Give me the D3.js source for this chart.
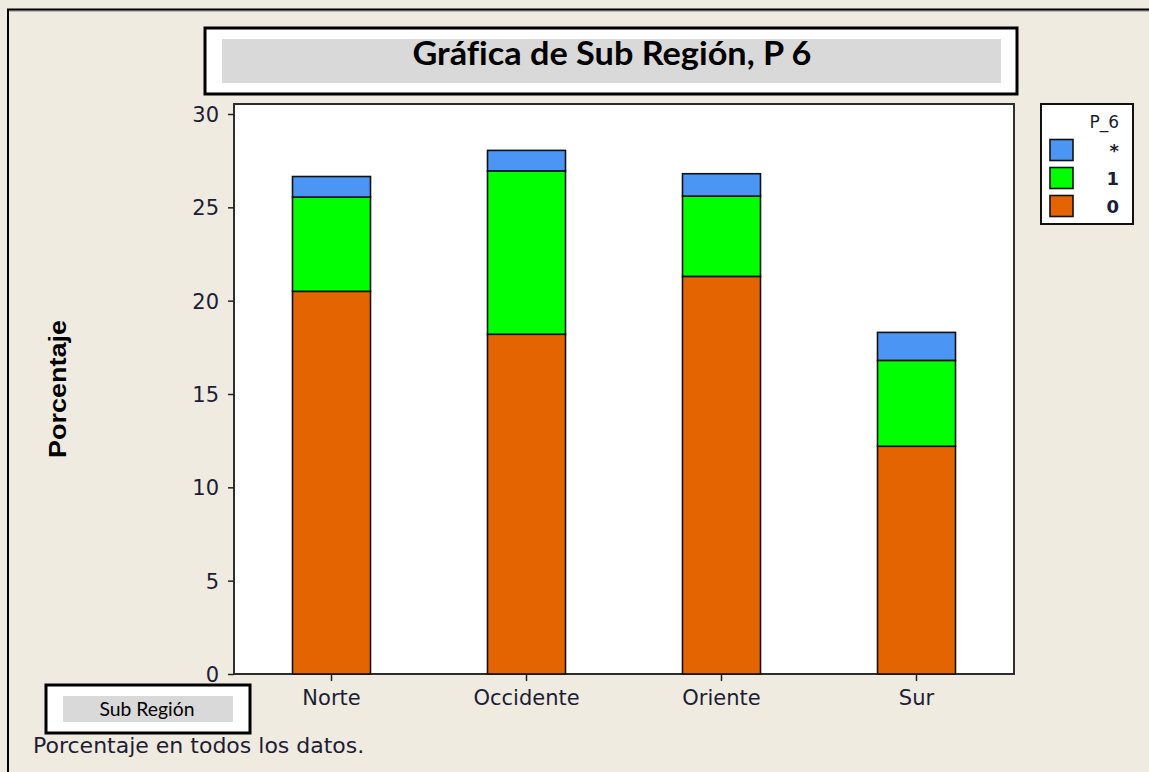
<!DOCTYPE html>
<html>
<head>
<meta charset="utf-8">
<script src="https://cdn.jsdelivr.net/npm/d3@7"></script>
<style>
  html, body { margin: 0; padding: 0; background: #efebe1; }
  svg { display: block; }
  text { font-variant-ligatures: none; font-feature-settings: "liga" 0, "clig" 0; }
</style>
</head>
<body>
<div id="dataviz"></div>
<script>
// data (percent of all data)
var regions = ["Norte", "Occidente", "Oriente", "Sur"];
var p6Keys = ["0", "1", "*"];
var p6Zero = [20.5, 18.2, 21.3, 12.2];
var p6One = [5.05, 8.75, 4.3, 4.6];
var p6Star = [1.1, 1.1, 1.2, 1.5];
var yTicks = [0, 5, 10, 15, 20, 25, 30];

var colors = { "0": "#e36400", "1": "#00ff00", "*": "#4b95f4" };
var legendOrder = ["*", "1", "0"];

var W = 1149, H = 772;
var plot = { left: 234, right: 1014, top: 104, bottom: 674 };
var textColor = "#1d1d35";

var svg = d3.select("#dataviz").append("svg")
    .attr("width", W)
    .attr("height", H);

// outer frame (only top and left edges visible)
svg.append("line").attr("x1", 7).attr("y1", 11).attr("x2", W).attr("y2", 11)
    .attr("stroke", "#888").attr("stroke-width", 1);
svg.append("line").attr("x1", 7).attr("y1", 9.5).attr("x2", W).attr("y2", 9.5)
    .attr("stroke", "#000").attr("stroke-width", 2);
svg.append("line").attr("x1", 8).attr("y1", 9).attr("x2", 8).attr("y2", H)
    .attr("stroke", "#000").attr("stroke-width", 2);

// table built from the arrays
var rows = regions.map(function(r, i) {
    return { region: r, "0": p6Zero[i], "1": p6One[i], "*": p6Star[i] };
});
var series = d3.stack().keys(p6Keys)(rows);

var x = d3.scaleBand().domain(regions)
    .range([plot.left, plot.right])
    .paddingInner(0.6).paddingOuter(0.3);
var y = d3.scaleLinear().domain([0, 30]).range([plot.bottom, 114]);

// plot area
svg.append("rect")
    .attr("x", plot.left).attr("y", plot.top)
    .attr("width", plot.right - plot.left).attr("height", plot.bottom - plot.top)
    .attr("fill", "#fff").attr("stroke", "#2e2e2e").attr("stroke-width", 2);

// bars
svg.append("g").selectAll("g").data(series).enter().append("g")
    .attr("fill", function(d) { return colors[d.key]; })
    .selectAll("rect").data(function(d) { return d; }).enter().append("rect")
    .attr("x", function(d) { return x(d.data.region); })
    .attr("y", function(d) { return y(d[1]); })
    .attr("width", x.bandwidth())
    .attr("height", function(d) { return y(d[0]) - y(d[1]); })
    .attr("stroke", "#111")
    .attr("stroke-width", 1.6);

// y axis
var yAxis = svg.append("g")
    .attr("transform", "translate(" + plot.left + ",0)")
    .call(d3.axisLeft(y).tickValues(yTicks).tickSize(6).tickPadding(9));
yAxis.select(".domain").remove();
yAxis.selectAll("line").attr("stroke", "#222").attr("stroke-width", 1.5);
yAxis.selectAll("text")
    .attr("fill", textColor)
    .style("font-family", "DejaVu Sans, sans-serif")
    .style("font-size", "21px")
    .attr("dy", "0.36em");

// x axis
var xAxis = svg.append("g")
    .attr("transform", "translate(0," + plot.bottom + ")")
    .call(d3.axisBottom(x).tickSize(7).tickPadding(9));
xAxis.select(".domain").remove();
xAxis.selectAll("line").attr("stroke", "#222").attr("stroke-width", 1.5);
xAxis.selectAll("text")
    .attr("fill", textColor)
    .style("font-family", "DejaVu Sans, sans-serif")
    .style("font-size", "21px");

// y axis label
svg.append("text")
    .attr("transform", "translate(66,389) rotate(-90)")
    .attr("text-anchor", "middle")
    .attr("fill", "#000")
    .style("font-family", "Liberation Sans, Arial, sans-serif")
    .style("font-weight", "bold")
    .style("font-size", "23px")
    .attr("textLength", 138)
    .attr("lengthAdjust", "spacingAndGlyphs")
    .text("Porcentaje");

// title box
svg.append("rect").attr("x", 205).attr("y", 28).attr("width", 812).attr("height", 66)
    .attr("fill", "#fff").attr("stroke", "#000").attr("stroke-width", 3);
svg.append("rect").attr("x", 222).attr("y", 39).attr("width", 779).attr("height", 44)
    .attr("fill", "#d9d9d9");
svg.append("text")
    .attr("x", 612).attr("y", 65)
    .attr("text-anchor", "middle")
    .attr("fill", "#000")
    .style("font-family", "Lato, Open Sans, sans-serif")
    .style("font-weight", "bold")
    .style("font-size", "32px")
    .attr("textLength", 399)
    .attr("lengthAdjust", "spacingAndGlyphs")
    .text("Gráfica de Sub Región, P 6");

// legend
var lg = svg.append("g");
lg.append("rect").attr("x", 1041).attr("y", 104).attr("width", 92).attr("height", 120)
    .attr("fill", "#fff").attr("stroke", "#111").attr("stroke-width", 2);
lg.append("text").attr("x", 1119).attr("y", 128).attr("text-anchor", "end")
    .attr("fill", textColor)
    .style("font-family", "DejaVu Sans, sans-serif").style("font-size", "17px")
    .text("P_6");
var item = lg.selectAll("g.item").data(legendOrder).enter().append("g")
    .attr("class", "item")
    .attr("transform", function(d, i) { return "translate(0," + (150 + i * 28) + ")"; });
item.append("rect").attr("x", 1050).attr("y", -10.5).attr("width", 23).attr("height", 21)
    .attr("fill", function(d) { return colors[d]; })
    .attr("stroke", "#111").attr("stroke-width", 1.6);
item.append("text").attr("x", 1119).attr("y", 7).attr("text-anchor", "end")
    .attr("fill", textColor)
    .style("font-family", "DejaVu Sans, sans-serif").style("font-size", "18px")
    .style("font-weight", "bold")
    .text(function(d) { return d; });

// x axis title box
svg.append("rect").attr("x", 46).attr("y", 685).attr("width", 204).attr("height", 48)
    .attr("fill", "#fff").attr("stroke", "#000").attr("stroke-width", 3);
svg.append("rect").attr("x", 63).attr("y", 696).attr("width", 170).attr("height", 26)
    .attr("fill", "#d9d9d9");
svg.append("text")
    .attr("x", 147).attr("y", 716)
    .attr("text-anchor", "middle")
    .attr("fill", "#000")
    .style("font-family", "Lato, Open Sans, sans-serif")
    .style("font-size", "20px")
    .attr("textLength", 95)
    .attr("lengthAdjust", "spacingAndGlyphs")
    .text("Sub Región");

// footnote
svg.append("text")
    .attr("x", 33).attr("y", 753)
    .attr("fill", textColor)
    .style("font-family", "DejaVu Sans, sans-serif")
    .style("font-size", "22px")
    .text("Porcentaje en todos los datos.");
</script>
</body>
</html>
